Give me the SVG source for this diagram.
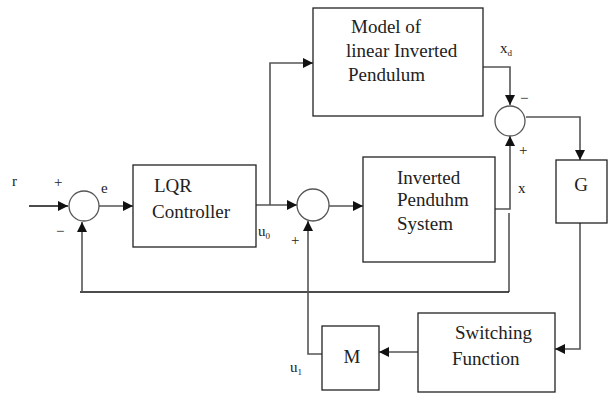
<svg xmlns="http://www.w3.org/2000/svg" width="610" height="394" viewBox="0 0 610 394">
  <defs>
    <marker id="arr" viewBox="0 0 10 10" refX="10" refY="5" markerWidth="10" markerHeight="10" markerUnits="userSpaceOnUse" orient="auto">
      <path d="M0,0 L10,5 L0,10 z" fill="#111"/>
    </marker>
  </defs>
  <style>
    .box { fill: #fff; stroke: #222; stroke-width: 1.3; }
    .sum { fill: #fff; stroke: #555; stroke-width: 1.3; }
    .ln { fill: none; stroke: #555; stroke-width: 1.6; }
    .lk { fill: none; stroke: #111; stroke-width: 1.3; }
    .t { font-family: "Liberation Serif", "DejaVu Serif", "Times New Roman", serif; font-size: 19px; fill: #222; }
    .s { font-family: "Liberation Serif", "DejaVu Serif", "Times New Roman", serif; font-size: 15px; fill: #222; }
  </style>

  <rect width="610" height="394" fill="#fff"/>

  <g id="connectors">
    <!-- reference input into first summing junction -->
    <line class="lk" x1="29" y1="206" x2="68" y2="206" marker-end="url(#arr)"/>
    <!-- error into LQR -->
    <line class="ln" x1="99" y1="206" x2="133" y2="206" marker-end="url(#arr)"/>
    <!-- u0 into second junction -->
    <line class="ln" x1="256" y1="205" x2="297" y2="205" marker-end="url(#arr)"/>
    <!-- u0 branch into model -->
    <polyline class="ln" points="270,205 270,63 313,63" marker-end="url(#arr)"/>
    <!-- second junction into plant -->
    <line class="ln" x1="329" y1="206" x2="363" y2="206" marker-end="url(#arr)"/>
    <!-- xd into error junction -->
    <polyline class="ln" points="483,67 510,67 510,105" marker-end="url(#arr)"/>
    <!-- x into error junction -->
    <polyline class="ln" points="492,209 510,209 510,136" marker-end="url(#arr)"/>
    <!-- error junction into G -->
    <polyline class="ln" points="526,117 580,117 580,160" marker-end="url(#arr)"/>
    <!-- state feedback to first junction -->
    <line class="ln" x1="509" y1="213" x2="509" y2="292"/>
    <line class="lk" x1="509" y1="292" x2="80" y2="292"/>
    <line class="ln" x1="82" y1="292" x2="82" y2="222" marker-end="url(#arr)"/>
    <!-- G into switching function -->
    <polyline class="ln" points="580,223 580,349 555,349" marker-end="url(#arr)"/>
    <!-- switching function into M -->
    <line class="ln" x1="418" y1="352" x2="379" y2="352" marker-end="url(#arr)"/>
    <!-- u1 into second junction -->
    <polyline class="ln" points="322,354 308,354 308,221" marker-end="url(#arr)"/>
  </g>

  <g id="sum1">
    <circle class="sum" cx="84" cy="206" r="15"/>
  </g>
  <g id="sum2">
    <circle class="sum" cx="313" cy="205" r="16"/>
  </g>
  <g id="sum3">
    <circle class="sum" cx="510" cy="121" r="15"/>
  </g>

  <g id="lqr">
    <rect class="box" x="133" y="165" width="123" height="82"/>
    <text class="t" x="154" y="192">LQR</text>
    <text class="t" x="152" y="218">Controller</text>
  </g>

  <g id="model">
    <rect class="box" x="313" y="8" width="170" height="108"/>
    <text class="t" x="351" y="33">Model of</text>
    <text class="t" x="346" y="57">linear Inverted</text>
    <text class="t" x="348" y="81">Pendulum</text>
  </g>

  <g id="plant">
    <rect class="box" x="363" y="157" width="132" height="105"/>
    <text class="t" x="397" y="184">Inverted</text>
    <text class="t" x="397" y="206">Penduhm</text>
    <text class="t" x="397" y="230">System</text>
  </g>

  <g id="g">
    <rect class="box" x="556" y="160" width="51" height="63"/>
    <text class="t" x="581" y="191" text-anchor="middle" font-size="20">G</text>
  </g>

  <g id="switching">
    <rect class="box" x="418" y="313" width="137" height="79"/>
    <text class="t" x="455" y="339">Switching</text>
    <text class="t" x="452" y="365">Function</text>
  </g>

  <g id="m">
    <rect class="box" x="322" y="326" width="57" height="64"/>
    <text class="t" x="352" y="363" text-anchor="middle" font-size="20">M</text>
  </g>

  <g id="labels">
    <text class="s" x="12" y="186">r</text>
    <text class="s" x="54" y="187">+</text>
    <text class="s" x="101" y="193">e</text>
    <text class="s" x="56" y="236">−</text>
    <text class="s" x="258" y="236">u<tspan font-size="9" dy="3">0</tspan></text>
    <text class="s" x="291" y="245">+</text>
    <text class="s" x="500" y="53">x<tspan font-size="9" dy="3">d</tspan></text>
    <text class="s" x="520" y="103">−</text>
    <text class="s" x="519" y="155">+</text>
    <text class="s" x="518" y="193">x</text>
    <text class="s" x="290" y="372">u<tspan font-size="9" dy="3">1</tspan></text>
  </g>
</svg>
